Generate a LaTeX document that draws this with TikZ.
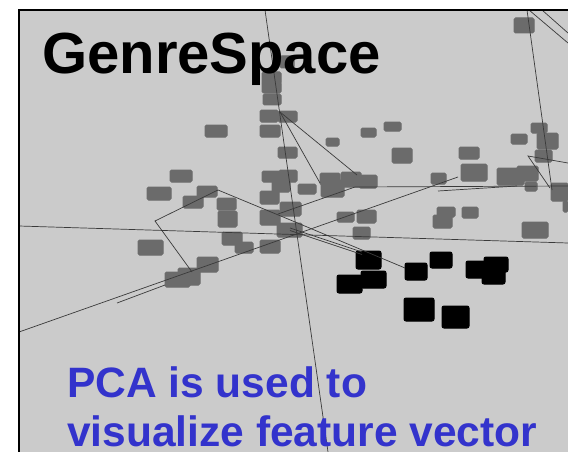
\documentclass[tikz,border=0pt]{standalone}
\usepackage{fontspec}
\setmainfont{Liberation Sans}
\definecolor{panel}{HTML}{CBCBCB}
\definecolor{blockgray}{HTML}{6B6B6B}
\definecolor{linegray}{HTML}{3A3A3A}
\definecolor{textblue}{HTML}{3333CC}
\begin{document}
\begin{tikzpicture}[x=1pt,y=-1pt,
  gb/.style={fill=blockgray,draw=blockgray,line width=1pt,rounded corners=1.5pt},
  bb/.style={fill=black,draw=black,line width=1pt,rounded corners=2pt},
  ln/.style={draw=linegray,line width=0.7pt},
  title/.style={font=\fontsize{58}{62}\selectfont\bfseries,text=black,inner sep=0pt,anchor=base west},
  caption/.style={font=\fontsize{42.5}{49}\selectfont\bfseries,text=textblue,inner sep=0pt,text depth=0pt,anchor=base west}]
\useasboundingbox (0,0) rectangle (568,452);
\fill[white] (0,0) rectangle (568,452);
\fill[panel] (19,10) rectangle (568,452);
% gray blocks
\foreach \a/\b/\c/\d in {
 262/72/281/84, 280/56/294/68,
 205/125/227/137, 170/170/192/182, 147/187/171/200, 183/196/203/208,
 197/186/217/197, 217/198/236/210, 218/211/237/227,
 262/82/281/93, 263/94/281/105, 260/110/278/122, 278/111/297/122,
 260/125/280/137, 278/147/297/158, 262/171/280/182, 279/170/297/182,
 272/181/290/192, 260/191/279/204, 298/184/316/194,
 280/202/301/216, 260/210/280/225, 277/223/302/237,
 514/18/534/33, 361/128/376/137, 384/122/401/131, 326/138/339/146,
 392/148/412/163, 459/147/479/159, 511/134/527/144, 531/123/547/133,
 537/133/558/149, 535/150/552/162, 461/164/487/181, 431/173/446/184,
 497/168/524/185, 517/166/538/181, 525/182/537/191,
 551/183/568/201, 563/201/568/212,
 321/180/344/197, 341/172/361/187, 359/175/377/188, 320/173/340/185,
 337/212/354/222, 357/210/376/223, 353/227/370/239,
 437/207/455/217, 433/215/452/228, 462/207/478/218, 522/222/548/238,
 138/240/163/255, 222/232/242/245, 235/242/253/253, 260/240/280/253,
 197/257/218/272, 165/272/190/287, 178/268/200/285}
 \filldraw[gb] (\a,\b) rectangle (\c,\d);
% black blocks
\foreach \a/\b/\c/\d in {
 356/251/381/269, 337/275/362/293, 361/271/386/288, 405/263/427/280,
 430/252/452/268, 466/261/487/278, 484/257/508/272, 482/268/505/284,
 404/298/434/321, 442/306/469/328}
 \filldraw[bb] (\a,\b) rectangle (\c,\d);
% lines
\coordinate (t1) at (265,10);   \coordinate (b1) at (328,452);
\coordinate (l2) at (19,226);   \coordinate (r2) at (568,243);
\coordinate (l3) at (19,332);   \coordinate (r3) at (458,177);
\coordinate (l4) at (117,303);  \coordinate (r4) at (165,285);
\coordinate (p1) at (192,272);  \coordinate (p2) at (155,221);
\coordinate (p3) at (218,190);  \coordinate (p4) at (300,224);
\coordinate (p5) at (405,268);
\coordinate (d1) at (290,228);  \coordinate (d2) at (362,252);
\coordinate (f0) at (280,112);  \coordinate (f1) at (320,183);
\coordinate (f2) at (357,175);
\coordinate (h0) at (278,214);  \coordinate (h1) at (355,187);
\coordinate (h2) at (568,186);
\coordinate (s1) at (438,191);  \coordinate (s2) at (517,186);
\coordinate (v1) at (527,10);   \coordinate (v2) at (552,190);
\coordinate (w1) at (529,10);   \coordinate (w2) at (568,43);
\coordinate (u1) at (542,10);   \coordinate (u2) at (568,33);
\coordinate (k0) at (528,156);  \coordinate (k1) at (550,188);
\coordinate (k2) at (568,163);
\draw[ln] (t1) -- (b1);
\draw[ln] (l2) -- (r2);
\draw[ln] (l3) -- (r3);
\draw[ln] (l4) -- (r4);
\draw[ln] (p1) -- (p2) -- (p3) -- (p4) -- (p5);
\draw[ln] (d1) -- (d2);
\draw[ln] ([yshift=-2.5pt]d1) -- ([yshift=-2.5pt]d2);
\draw[ln] (f0) -- (f1);
\draw[ln] (f0) -- (f2);
\draw[ln] (h0) -- (h1) -- (h2);
\draw[ln] (s1) -- (s2);
\draw[ln] (v1) -- (v2);
\draw[ln] (w1) -- (w2);
\draw[ln] (u1) -- (u2);
\draw[ln] (k1) -- (k0) -- (k2);
% border
\draw[line width=2pt] (19,452) -- (19,10) -- (568,10);
% texts
\node[title] (ttl) at (42,74) {GenreSpace};
\node[caption] (c1) at (67,397) {PCA is used to};
\node[caption] (c2) at (67,446) {visualize feature vector};
\end{tikzpicture}
\end{document}
